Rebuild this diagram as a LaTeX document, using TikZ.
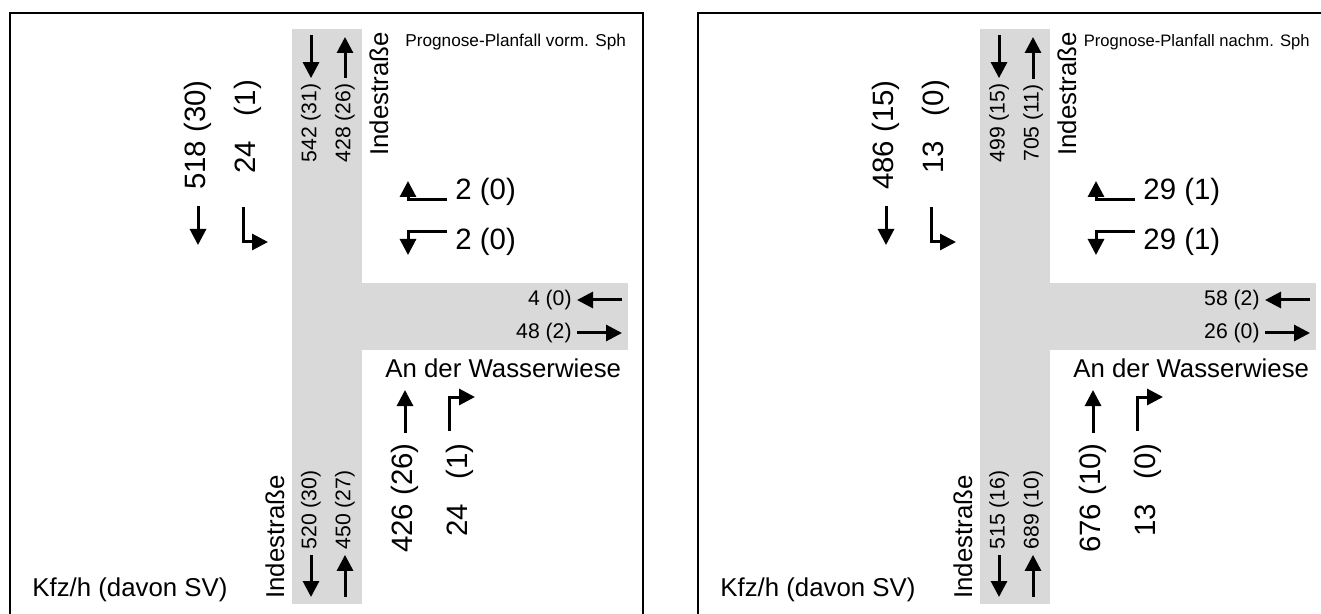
\documentclass[tikz,border=0pt]{standalone}
\usepackage{fontspec}
\setmainfont{Liberation Sans}
\usetikzlibrary{arrows.meta}
\definecolor{roadgray}{RGB}{217,217,217}
% Zahl und Schwerverkehr rechtsbuendig wie in "518 (30)"
\newcommand{\vol}[2]{\makebox[1.67em][r]{#1}\makebox[2.06em][r]{#2}}

\begin{document}
\begin{tikzpicture}[x=0.5pt, y=-0.5pt,
  frame/.style={draw=black, line width=1pt},
  road/.style={fill=roadgray, draw=none},
  big/.style={font=\fontsize{14.7}{17}\selectfont, inner sep=5pt},
  lane/.style={font=\fontsize{10.6}{12}\selectfont, inner sep=2.5pt},
  street/.style={font=\fontsize{12.9}{15}\selectfont, inner sep=0pt},
  note/.style={font=\fontsize{8.6}{10}\selectfont, inner sep=0pt},
  flow/.style={-{Triangle[length=8pt,width=8pt]}, line width=1.5pt}
]
  \clip (0,0) rectangle (1321,614);

  % Prognose-Planfall vormittags
  \begin{scope}
    \draw[frame] (10,13) rectangle (643,640);
    \fill[road] (292,29) rectangle (362,604);
    \fill[road] (362,283) rectangle (628,350);

    \node[note, anchor=west] (titleL) at (405,42) {Prognose-Planfall vorm. Sph};
    \node[street, rotate=90] (indeNL) at (379,94) {Indestraße};
    \node[street, rotate=90] (indeSL) at (275,537) {Indestraße};
    \node[street, anchor=west] (wasserL) at (385,368) {An der Wasserwiese};
    \node[street, anchor=west] (unitL) at (32,590) {Kfz/h (davon SV)};

    % Indestrasse Nord
    \node[lane, rotate=90] (inNL) at (311,123) {542 (31)};
    \node[lane, rotate=90] (outNL) at (345,123) {428 (26)};
    \coordinate (inNtopL) at (311,35);
    \coordinate (outNtopL) at (345,37);
    \draw[flow] (inNtopL) -- (inNL.east);
    \draw[flow] (outNL.east) -- (outNtopL);

    \node[big, rotate=90] (thruNL) at (198,135) {518 (30)};
    \node[big, rotate=90] (leftNL) at (248,135) {\vol{24}{(1)}};
    \coordinate (thruNendL) at (198,245);
    \draw[flow, shorten <=3pt] (thruNL.west) -- (thruNendL);
    \coordinate (leftNaL) at (243,207);
    \coordinate (leftNbL) at (243,242);
    \coordinate (leftNcL) at (268,242);
    \draw[flow] (leftNaL) -- (leftNbL) -- (leftNcL);

    % An der Wasserwiese
    \node[big, anchor=west, inner sep=0pt] (rightOL) at (455,192) {2 (0)};
    \node[big, anchor=west, inner sep=0pt] (leftOL) at (455,242) {2 (0)};
    \coordinate (rightOaL) at (447,200);
    \coordinate (rightObL) at (408,200);
    \coordinate (rightOcL) at (408,181);
    \draw[flow] (rightOaL) -- (rightObL) -- (rightOcL);
    \coordinate (leftOaL) at (447,232);
    \coordinate (leftObL) at (408,232);
    \coordinate (leftOcL) at (408,255);
    \draw[flow] (leftOaL) -- (leftObL) -- (leftOcL);

    \node[lane, anchor=east] (inOL) at (577,300) {4 (0)};
    \node[lane, anchor=east] (outOL) at (577,333) {48 (2)};
    \coordinate (inOendL) at (622,300);
    \coordinate (outOendL) at (622,333);
    \draw[flow] (inOendL) -- (inOL.east);
    \draw[flow] (outOL.east) -- (outOendL);

    % Indestrasse Sued
    \node[lane, rotate=90] (outSL) at (311,510) {520 (30)};
    \node[lane, rotate=90] (inSL) at (345,510) {450 (27)};
    \coordinate (outSendL) at (311,597);
    \coordinate (inSendL) at (345,597);
    \draw[flow] (outSL.west) -- (outSendL);
    \draw[flow] (inSendL) -- (inSL.west);

    \node[big, rotate=90] (thruSL) at (405,498) {426 (26)};
    \node[big, rotate=90] (rightSL) at (460,498) {\vol{24}{(1)}};
    \coordinate (thruSendL) at (405,390);
    \draw[flow] (thruSL.east) -- (thruSendL);
    \coordinate (rightSaL) at (449,431);
    \coordinate (rightSbL) at (449,397);
    \coordinate (rightScL) at (475,397);
    \draw[flow] (rightSaL) -- (rightSbL) -- (rightScL);
  \end{scope}

  % Prognose-Planfall nachmittags
  \begin{scope}[shift={(688,0)}]
    \draw[frame] (10,13) rectangle (643,640);
    \fill[road] (292,29) rectangle (362,604);
    \fill[road] (362,283) rectangle (628,350);

    \node[note, anchor=east, font=\fontsize{8.3}{10}\selectfont] (titleR) at (622,42) {Prognose-Planfall nachm. Sph};
    \node[street, rotate=90] (indeNR) at (379,94) {Indestraße};
    \node[street, rotate=90] (indeSR) at (275,537) {Indestraße};
    \node[street, anchor=west] (wasserR) at (385,368) {An der Wasserwiese};
    \node[street, anchor=west] (unitR) at (32,590) {Kfz/h (davon SV)};

    % Indestrasse Nord
    \node[lane, rotate=90] (inNR) at (311,123) {499 (15)};
    \node[lane, rotate=90] (outNR) at (345,123) {705 (11)};
    \coordinate (inNtopR) at (311,35);
    \coordinate (outNtopR) at (345,37);
    \draw[flow] (inNtopR) -- (inNR.east);
    \draw[flow] (outNR.east) -- (outNtopR);

    \node[big, rotate=90] (thruNR) at (198,135) {486 (15)};
    \node[big, rotate=90] (leftNR) at (248,135) {\vol{13}{(0)}};
    \coordinate (thruNendR) at (198,245);
    \draw[flow, shorten <=3pt] (thruNR.west) -- (thruNendR);
    \coordinate (leftNaR) at (243,207);
    \coordinate (leftNbR) at (243,242);
    \coordinate (leftNcR) at (268,242);
    \draw[flow] (leftNaR) -- (leftNbR) -- (leftNcR);

    % An der Wasserwiese
    \node[big, anchor=west, inner sep=0pt] (rightOR) at (455,192) {29 (1)};
    \node[big, anchor=west, inner sep=0pt] (leftOR) at (455,242) {29 (1)};
    \coordinate (rightOaR) at (447,200);
    \coordinate (rightObR) at (408,200);
    \coordinate (rightOcR) at (408,181);
    \draw[flow] (rightOaR) -- (rightObR) -- (rightOcR);
    \coordinate (leftOaR) at (447,232);
    \coordinate (leftObR) at (408,232);
    \coordinate (leftOcR) at (408,255);
    \draw[flow] (leftOaR) -- (leftObR) -- (leftOcR);

    \node[lane, anchor=east] (inOR) at (577,300) {58 (2)};
    \node[lane, anchor=east] (outOR) at (577,333) {26 (0)};
    \coordinate (inOendR) at (622,300);
    \coordinate (outOendR) at (622,333);
    \draw[flow] (inOendR) -- (inOR.east);
    \draw[flow] (outOR.east) -- (outOendR);

    % Indestrasse Sued
    \node[lane, rotate=90] (outSR) at (311,510) {515 (16)};
    \node[lane, rotate=90] (inSR) at (345,510) {689 (10)};
    \coordinate (outSendR) at (311,597);
    \coordinate (inSendR) at (345,597);
    \draw[flow] (outSR.west) -- (outSendR);
    \draw[flow] (inSendR) -- (inSR.west);

    \node[big, rotate=90] (thruSR) at (405,498) {676 (10)};
    \node[big, rotate=90] (rightSR) at (460,498) {\vol{13}{(0)}};
    \coordinate (thruSendR) at (405,390);
    \draw[flow] (thruSR.east) -- (thruSendR);
    \coordinate (rightSaR) at (449,431);
    \coordinate (rightSbR) at (449,397);
    \coordinate (rightScR) at (475,397);
    \draw[flow] (rightSaR) -- (rightSbR) -- (rightScR);
  \end{scope}
\end{tikzpicture}
\end{document}
